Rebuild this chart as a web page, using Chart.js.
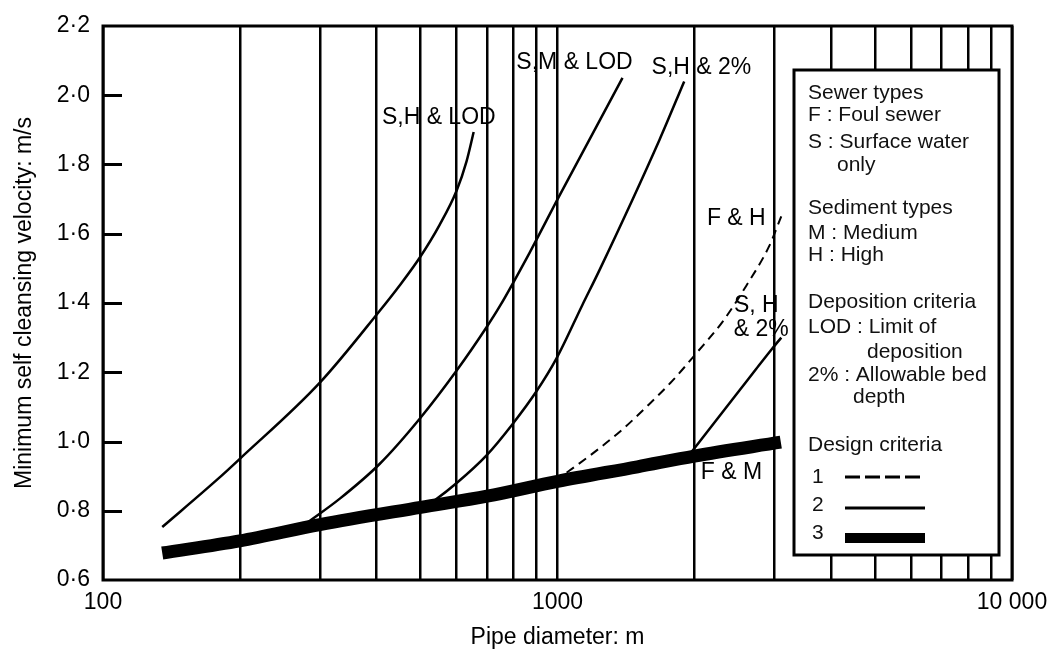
<!DOCTYPE html>
<html>
<head>
<meta charset="utf-8">
<script src="https://cdn.jsdelivr.net/npm/chart.js@4.4.0/dist/chart.umd.min.js"></script>
<style>
  html, body { margin: 0; padding: 0; background: #fff; }
</style>
</head>
<body>
<canvas id="chart" width="1047" height="651"></canvas>
<script>
// curves (pipe diameter, velocity m/s)
const shLodX = [135, 178, 200, 300, 406, 449, 497, 550, 600, 631, 654];
const shLodY = [0.753, 0.889, 0.95, 1.17, 1.377, 1.45, 1.53, 1.625, 1.725, 1.81, 1.894];

const smLodX = [281, 332, 406, 497, 600, 698, 746, 868, 1010, 1390];
const smLodY = [0.765, 0.835, 0.935, 1.065, 1.205, 1.33, 1.39, 1.545, 1.71, 2.05];

const sh2LeftX = [510, 537, 600, 698, 796, 899, 995, 1135, 1237, 1676, 1900];
const sh2LeftY = [0.81, 0.83, 0.88, 0.96, 1.05, 1.145, 1.24, 1.395, 1.495, 1.871, 2.04];

const fhX = [985, 1194, 1390, 1569, 1789, 2021, 2305, 2603, 2924, 3107];
const fhY = [0.885, 0.965, 1.035, 1.10, 1.175, 1.255, 1.345, 1.45, 1.565, 1.65];

const sh2RightX = [1950, 2237, 2513, 2738, 2954, 3107];
const sh2RightY = [0.962, 1.062, 1.147, 1.21, 1.265, 1.30];

const fmX = [135, 200, 300, 500, 700, 1000, 1500, 2000, 3100];
const fmY = [0.678, 0.713, 0.76, 0.81, 0.842, 0.885, 0.927, 0.958, 0.998];

// curve labels, anchored in data units
const curveLabels = ["S,H & LOD", "S,M & LOD", "S,H & 2%", "F & H", "S, H", "& 2%", "F & M"];
const curveLabelX = [548, 1090, 2073, 2474, 2737, 2808, 2413];
const curveLabelY = [1.934, 2.093, 2.079, 1.645, 1.391, 1.322, 0.909];

// x grid values and the ones that get a label
const xGridValues = [100, 200, 300, 400, 500, 600, 700, 800, 900,
  1000, 2000, 3000, 4000, 5000, 6000, 7000, 8000, 9000, 10000];
const xTickLabels = { 100: "100", 1000: "1000", 10000: "10 000" };

// legend text
const legendLines = [
  "Sewer types", "F : Foul sewer", "S : Surface water", "only",
  "Sediment types", "M : Medium", "H : High",
  "Deposition criteria", "LOD : Limit of", "deposition", "2% : Allowable bed", "depth",
  "Design criteria", "1", "2", "3"
];

const FONT = "'Liberation Sans', Arial, sans-serif";

function pts(xs, ys) {
  return xs.map((x, i) => ({ x: x, y: ys[i] }));
}

function curve(xs, ys, width, dash) {
  return {
    data: pts(xs, ys),
    borderColor: "#000",
    borderWidth: width,
    borderDash: dash || [],
    pointRadius: 0,
    fill: false,
    cubicInterpolationMode: "monotone"
  };
}

// legend row layout (px on the canvas)
const legendRowX = [808, 808, 808, 837, 808, 808, 808, 808, 808, 867, 808, 853, 808, 812, 812, 812];
const legendRowY = [93, 115, 142, 165, 208, 233, 255, 302, 327, 352, 375, 397, 445, 477, 505, 533];

const overlay = {
  id: "overlay",
  afterDatasetsDraw(chart) {
    const ctx = chart.ctx;
    const xs = chart.scales.x, ys = chart.scales.y;
    const area = chart.chartArea;

    // inward y ticks
    ctx.save();
    ctx.strokeStyle = "#000";
    ctx.lineWidth = 3;
    ys.ticks.forEach(t => {
      if (t.value <= 0.61 || t.value >= 2.19) return;
      const py = Math.round(ys.getPixelForValue(t.value)) + 0.5;
      ctx.beginPath();
      ctx.moveTo(area.left, py);
      ctx.lineTo(area.left + 19, py);
      ctx.stroke();
    });

    // curve labels
    ctx.fillStyle = "#000";
    ctx.font = "23px " + FONT;
    ctx.textAlign = "center";
    ctx.textBaseline = "middle";
    curveLabels.forEach((s, i) => {
      ctx.fillText(s, xs.getPixelForValue(curveLabelX[i]), ys.getPixelForValue(curveLabelY[i]));
    });

    // legend box
    const bx = 794, by = 70, bw = 205, bh = 485;
    ctx.fillStyle = "#fff";
    ctx.fillRect(bx, by, bw, bh);
    ctx.lineWidth = 3;
    ctx.strokeStyle = "#000";
    ctx.strokeRect(bx, by, bw, bh);

    ctx.fillStyle = "#111";
    ctx.font = "21px " + FONT;
    ctx.textAlign = "left";
    legendLines.forEach((s, i) => ctx.fillText(s, legendRowX[i], legendRowY[i]));

    // legend line samples
    ctx.strokeStyle = "#000";
    ctx.lineWidth = 3;
    ctx.setLineDash([15, 5]);
    ctx.beginPath(); ctx.moveTo(845, 477); ctx.lineTo(925, 477); ctx.stroke();
    ctx.setLineDash([]);
    ctx.beginPath(); ctx.moveTo(845, 508); ctx.lineTo(925, 508); ctx.stroke();
    ctx.lineWidth = 10;
    ctx.beginPath(); ctx.moveTo(845, 538); ctx.lineTo(925, 538); ctx.stroke();
    ctx.restore();
  },
  afterDraw(chart) {
    const ctx = chart.ctx, a = chart.chartArea;
    ctx.save();
    ctx.strokeStyle = "#000";
    ctx.lineWidth = 3;
    ctx.strokeRect(a.left, a.top, a.right - a.left, a.bottom - a.top);
    ctx.restore();
  }
};

new Chart(document.getElementById("chart"), {
  type: "line",
  data: {
    datasets: [
      curve(shLodX, shLodY, 2.5),
      curve(smLodX, smLodY, 2.5),
      curve(sh2LeftX, sh2LeftY, 2.5),
      curve(fhX, fhY, 2, [9, 6]),
      curve(sh2RightX, sh2RightY, 2.5),
      curve(fmX, fmY, 13)
    ]
  },
  options: {
    responsive: false,
    animation: false,
    layout: { padding: { top: 26, right: 35, left: 0, bottom: 0 } },
    plugins: { legend: { display: false }, tooltip: { enabled: false } },
    scales: {
      x: {
        type: "logarithmic",
        min: 100,
        max: 10000,
        afterBuildTicks: s => { s.ticks = xGridValues.map(v => ({ value: v })); },
        grid: { color: "#000", lineWidth: 2.5, drawTicks: false },
        border: { display: false },
        ticks: {
          autoSkip: false,
          maxRotation: 0,
          padding: 9,
          color: "#000",
          font: { family: FONT, size: 23 },
          callback: v => xTickLabels[v] || ""
        },
        title: {
          display: true,
          text: "Pipe diameter: m",
          color: "#000",
          font: { family: FONT, size: 23 },
          padding: { top: 0, bottom: 0 }
        },
        afterFit: s => { s.height = 71; s.paddingLeft = 0; s.paddingRight = 0; }
      },
      y: {
        min: 0.6,
        max: 2.2,
        grid: { display: false, drawTicks: false },
        border: { display: false },
        ticks: {
          stepSize: 0.2,
          padding: 13,
          color: "#000",
          font: { family: FONT, size: 23 },
          callback: v => v.toFixed(1).replace(".", "·")
        },
        title: {
          display: true,
          text: "Minimum self cleansing velocity: m/s",
          color: "#000",
          font: { family: FONT, size: 23 },
          padding: { top: 11, bottom: 0 }
        },
        afterFit: s => { s.width = 103; s.paddingTop = 0; s.paddingBottom = 0; }
      }
    }
  },
  plugins: [overlay]
});
</script>
</body>
</html>
